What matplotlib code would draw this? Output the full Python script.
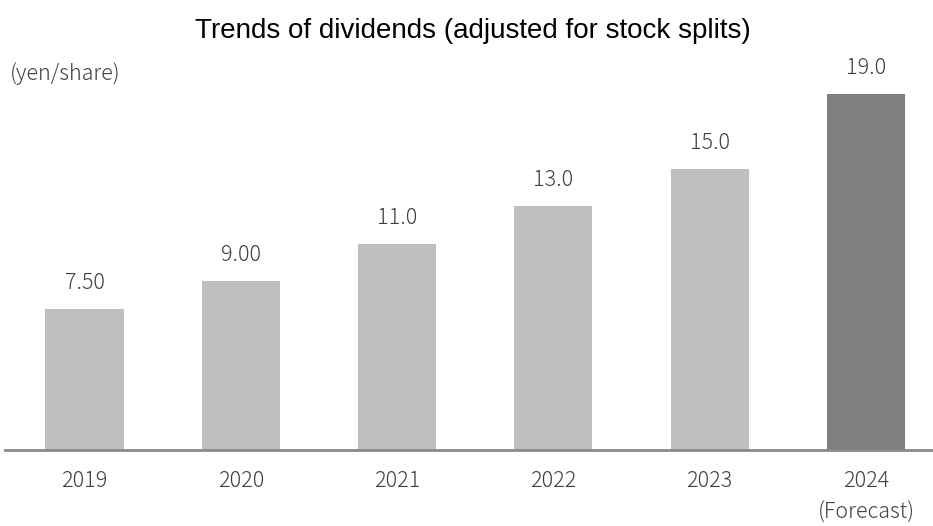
import matplotlib
matplotlib.use('Agg')
import matplotlib.pyplot as plt

# Dividend per share by fiscal year (2024 is a forecast)
years = ['2019', '2020', '2021', '2022', '2023', '2024']
dividends = [7.5, 9.0, 11.0, 13.0, 15.0, 19.0]
value_labels = ['7.50', '9.00', '11.0', '13.0', '15.0', '19.0']
is_forecast = [False, False, False, False, False, True]

label_font = ['Noto Sans CJK JP', 'DejaVu Sans']
text_color = '#404040'

fig = plt.figure(figsize=(9.33, 5.26), dpi=100)
ax = fig.add_axes([5 / 933, 76 / 526, 928 / 933, 390 / 526])

x = list(range(len(years)))
colors = ['#7f7f7f' if f else '#bfbfbf' for f in is_forecast]
ax.bar(x, dividends, width=0.5, color=colors, zorder=2)

ax.set_xlim(-0.509, 5.429)
ax.set_ylim(0, 20.81)

# only the baseline is drawn
for side in ['left', 'right', 'top']:
    ax.spines[side].set_visible(False)
ax.spines['bottom'].set_color('#898989')
ax.spines['bottom'].set_linewidth(2)
ax.spines['bottom'].set_zorder(3)
ax.set_xticks([])
ax.set_yticks([])

# value labels above the bars
for xi, v, lab in zip(x, dividends, value_labels):
    ax.annotate(lab, (xi, v), xytext=(0, 20), textcoords='offset pixels',
                ha='center', va='baseline', fontsize=15.5, weight='light',
                family=label_font, color=text_color)

# year labels under the baseline
for xi, yr, f in zip(x, years, is_forecast):
    ax.annotate(yr, (xi, 0), xytext=(0, -37), textcoords='offset pixels',
                ha='center', va='baseline', fontsize=15.5, weight='light',
                family=label_font, color=text_color, annotation_clip=False)
    if f:
        ax.annotate('(Forecast)', (xi, 0), xytext=(0, -69),
                    textcoords='offset pixels', ha='center', va='baseline',
                    fontsize=15.5, weight='light', family=label_font,
                    color=text_color, annotation_clip=False)

fig.text(472.5 / 933, 488 / 526, 'Trends of dividends (adjusted for stock splits)',
         ha='center', va='baseline', fontsize=20,
         family=['Liberation Sans', 'DejaVu Sans'], color='black')
fig.text(10 / 933, 446 / 526, '(yen/share)', ha='left', va='baseline',
         fontsize=15.5, weight='light', family=label_font, color=text_color)

fig.savefig('out.png', dpi=100)
